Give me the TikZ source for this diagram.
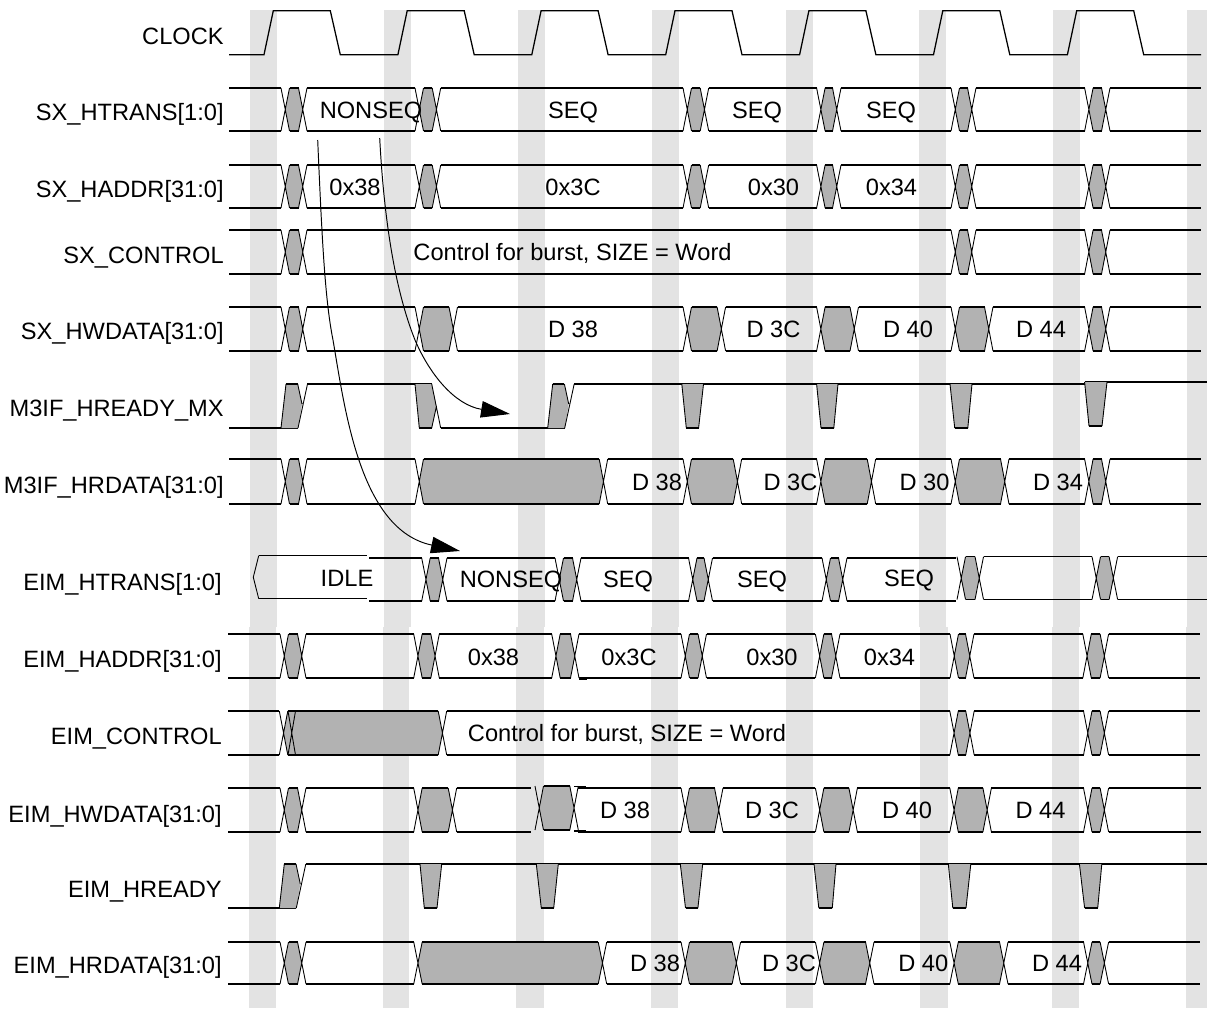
\documentclass[tikz,border=0pt]{standalone}
\usepackage{xcolor}
\usepackage{fontspec}
\setmainfont{Liberation Sans}
\usetikzlibrary{arrows.meta}
\definecolor{TDBand}{HTML}{E3E3E3}
\definecolor{TDGray}{HTML}{B2B2B2}
\tikzset{
  busline/.style={black,line width=0.72pt},
  edgeline/.style={black,line width=0.5pt},
  waitfill/.style={fill=TDGray},
  causeline/.style={black,line width=0.55pt,-{Triangle[length=0.58cm,width=0.33cm]}},
  sigLabel/.style={anchor=base east,inner sep=0pt,font=\fontsize{13.45}{16}\selectfont},
  busText/.style={anchor=base,inner sep=0pt,font=\fontsize{13.45}{16}\selectfont}
}
% one bus change: line end, line start, top, bottom
\newcommand{\BusGap}[4]{
  \fill[waitfill] (#1+8.5,#3) -- (#2-8.5,#3) -- (#2-4.25,{(#3+#4)/2}) -- (#2-8.5,#4) -- (#1+8.5,#4) -- (#1+4.25,{(#3+#4)/2}) -- cycle;
  \draw[busline] (#1+8.5,#3) -- (#2-8.5,#3) (#1+8.5,#4) -- (#2-8.5,#4);
  \draw[edgeline] (#1,#3) -- (#1+8.5,#4) (#1+8.5,#3) -- (#1,#4) (#2-8.5,#3) -- (#2,#4) (#2,#3) -- (#2-8.5,#4);
}
% top, bottom, first x, last x, list of changes
\newcommand{\BusRow}[5]{
  \foreach \xa/\xd [remember=\xd as \lastx (initially #3)] in {#5}{
    \draw[busline] (\lastx,#1) -- (\xa,#1) (\lastx,#2) -- (\xa,#2);
    \BusGap{\xa}{\xd}{#1}{#2}
  }
  \foreach \xa/\xd [remember=\xd as \lastx (initially #3)] in {#5}{\global\let\rowlast\xd}
  \draw[busline] (\rowlast,#1) -- (#4,#1) (\rowlast,#2) -- (#4,#2);
}
\newcommand{\ReadyDip}[6]{
  \fill[waitfill] (#1,#5) -- (#4,#5) -- (#3,#6) -- (#2,#6) -- cycle;
  \draw[edgeline] (#1,#5) -- (#2,#6) (#4,#5) -- (#3,#6);
  \draw[busline] (#2,#6) -- (#3,#6);
}
\newcommand{\ReadyRise}[3]{
  \fill[waitfill] (#1,#3) -- (#1+5,#2) -- (#1+16.7,#2) -- (#1+21,#2+20) -- (#1+17,#3) -- cycle;
  \draw[edgeline] (#1,#3) -- (#1+5,#2) (#1+16.7,#2) -- (#1+21,#2+20) (#1+26.5,#2) -- (#1+17,#3);
  \draw[busline] (#1+5,#2) -- (#1+16.7,#2);
}
\begin{document}
\begin{tikzpicture}[x=0.02cm,y=-0.02cm]
\path[use as bounding box] (0,0) rectangle (1207,1008);
\foreach \bx/\ex in {250/277,384/411,518/545,652/679,786/813,919/946,1053/1080,1187/1207}
  \fill[TDBand] (\bx,10) rectangle (\ex,627);
\foreach \bx/\ex in {249/276,383/409,516/544,651/678,786/813,920/948,1052/1079,1186/1207}
  \fill[TDBand] (\bx,627) rectangle (\ex,1008);
% clock
\draw[busline] (229,54.7) \foreach \k in {0,...,6}{ -- ({264+133.9*\k},54.7) -- ({273.3+133.9*\k},10.7) -- ({330.3+133.9*\k},10.7) -- ({340.3+133.9*\k},54.7)} -- (1201,54.7);
% SX side
\BusRow{88}{131}{229}{1201}{281/307,415/440.7,683/708.7,816.6/841,951/976,1084.6/1110}
\BusRow{165}{208}{229}{1201}{281/307,415/440.7,683/708.7,816.6/841,951/976,1084.6/1110}
\BusRow{230}{274}{229}{1201}{281/307,951/976,1084.6/1110}
\BusRow{307}{351}{229}{1201}{281/307,415/457.5,683/725.6,816.6/858.5,951/993,1084.6/1110}
% M3IF_HREADY_MX
\draw[busline] (229,428) -- (298,428) (307,384) -- (431.7,384) (440.7,428) -- (565,428) (574.3,384) -- (1084.6,384) (1084.6,382) -- (1207,382);
\ReadyRise{281}{384}{428}
\fill[waitfill] (415,384) -- (431.7,384) -- (436.5,406) -- (431.7,428) -- (419.3,428) -- cycle;
\draw[edgeline] (415,384) -- (419.3,428) (431.7,384) -- (440.7,428) (436.5,406) -- (431.7,428);
\draw[busline] (419.3,428) -- (431.7,428);
\ReadyRise{547.7}{384}{428}
\ReadyDip{681.8}{686.3}{698.6}{703.5}{384}{428}
\ReadyDip{816.6}{821}{833.8}{838}{384}{428}
\ReadyDip{950}{954.7}{967.8}{972}{384}{428}
\ReadyDip{1084.6}{1089}{1102}{1107}{382}{426}
\BusRow{459}{504}{229}{1201}{281/307,415/607.7,683/741.7,816.6/875.7,951/1009,1084.6/1110}
% EIM side
\draw[busline] (258.7,555.7) -- (367,555.7) (258.7,598.7) -- (367,598.7);
\draw[edgeline] (258.7,555.7) -- (253.3,577.2) -- (258.7,598.7);
\BusRow{558}{601}{369}{955.5}{421.7/447,555/581,688.5/712.5,822/847}
\BusRow{556.7}{599.5}{957}{1207}{957/983.5,1092/1117.6}
\BusRow{634}{678}{228}{1200}{280/306,413.7/439.3,551.7/579,681/706.5,815.4/840,950/974,1082.8/1108.6}
\draw[busline] (579,679) -- (587,679);
\BusRow{711}{755}{228}{1200}{279.3/446.7,949.8/974.2,1083.5/1108.6}
\draw[edgeline] (288,711) -- (295.5,755) (295.5,711) -- (288,755);
\draw[busline] (707,710.5) -- (758,710.5) (714,755.8) -- (766,755.8);
\BusRow{788}{832}{228}{530.7}{280/306,413.7/456.7}
\BusRow{786}{830}{535}{578.3}{535/578.3}
\BusRow{788}{832}{578.3}{1201}{681/723,815.4/857.4,949.8/991.4,1083.5/1108.6}
\draw[busline] (574,786.5) -- (586,786.5) (574,831) -- (586,831);
\draw[busline] (228,908) -- (296.3,908) (306,864) -- (1207,864);
\ReadyRise{279.3}{864}{908}
\ReadyDip{420}{424.3}{437}{441.7}{864}{908}
\ReadyDip{536.3}{541.3}{553.7}{558.3}{864}{908}
\ReadyDip{680.3}{685.5}{697.9}{702.7}{864}{908}
\ReadyDip{814}{818.8}{832.3}{836}{864}{908}
\ReadyDip{948.3}{952.8}{966}{970.8}{864}{908}
\ReadyDip{1079.4}{1084.6}{1097.7}{1101.8}{864}{908}
\BusRow{942}{984}{228}{1200}{280/306,413.7/606.7,681/740.6,815.4/874,949.8/1008,1083.5/1108.6}
% cause arrows
\coordinate (htransFrom) at (317.7,140);
\coordinate (htransBend) at (333,340);
\coordinate (htransTo) at (460,551);
\coordinate (readyFrom) at (379.7,138);
\coordinate (readyBend) at (415,340);
\coordinate (readyTo) at (510,414);
\draw[causeline] (htransFrom) .. controls (322,240) and (325,300) .. (htransBend) .. controls (345,410) and (360,530) .. (htransTo);
\draw[causeline] (readyFrom) .. controls (384,220) and (395,290) .. (readyBend) .. controls (430,375) and (455,405) .. (readyTo);
% signal names
\node[sigLabel] (clockName) at (224,44) {CLOCK};
\node[sigLabel] (sxTransName) at (224,120) {SX\_HTRANS[1:0]};
\node[sigLabel] (sxAddrName) at (224,197) {SX\_HADDR[31:0]};
\node[sigLabel] (sxCtrlName) at (224,263) {SX\_CONTROL};
\node[sigLabel] (sxDataName) at (224,339) {SX\_HWDATA[31:0]};
\node[sigLabel] (mxReadyName) at (224,416) {M3IF\_HREADY\_MX};
\node[sigLabel] (mxDataName) at (224,493) {M3IF\_HRDATA[31:0]};
\node[sigLabel] (eimTransName) at (222,590) {EIM\_HTRANS[1:0]};
\node[sigLabel] (eimAddrName) at (222,667) {EIM\_HADDR[31:0]};
\node[sigLabel] (eimCtrlName) at (222,744) {EIM\_CONTROL};
\node[sigLabel] (eimDataName) at (222,822) {EIM\_HWDATA[31:0]};
\node[sigLabel] (eimReadyName) at (222,897) {EIM\_HREADY};
\node[sigLabel] (eimRdName) at (222,973) {EIM\_HRDATA[31:0]};
% bus values
\node[busText] (sxTransA) at (371,118) {NONSEQ};
\node[busText] (sxTransB) at (573,118) {SEQ};
\node[busText] (sxTransC) at (757,118) {SEQ};
\node[busText] (sxTransD) at (891,118) {SEQ};
\node[busText] (sxAddrA) at (355,195) {0x38};
\node[busText] (sxAddrB) at (573,195) {0x3C};
\node[busText] (sxAddrC) at (773.5,195) {0x30};
\node[busText] (sxAddrD) at (891.5,195) {0x34};
\node[busText] (sxCtrlA) at (572.5,260.7) {Control for burst, SIZE = Word};
\node[busText] (sxDataA) at (573,337) {D 38};
\node[busText] (sxDataB) at (773.5,337) {D 3C};
\node[busText] (sxDataC) at (908,337) {D 40};
\node[busText] (sxDataD) at (1041,337) {D 44};
\node[busText] (mxDataA) at (657,490.7) {D 38};
\node[busText] (mxDataB) at (790.5,490.7) {D 3C};
\node[busText] (mxDataC) at (924.5,490.7) {D 30};
\node[busText] (mxDataD) at (1058,490.7) {D 34};
\node[busText] (eimTransA) at (347,586.7) {IDLE};
\node[busText] (eimTransB) at (511,587) {NONSEQ};
\node[busText] (eimTransC) at (628,587) {SEQ};
\node[busText] (eimTransD) at (762,587) {SEQ};
\node[busText] (eimTransE) at (909,586.7) {SEQ};
\node[busText] (eimAddrA) at (493.5,665.5) {0x38};
\node[busText] (eimAddrB) at (629,665.5) {0x3C};
\node[busText] (eimAddrC) at (772,665) {0x30};
\node[busText] (eimAddrD) at (889.5,665) {0x34};
\node[busText] (eimCtrlA) at (627,741.7) {Control for burst, SIZE = Word};
\node[busText] (eimDataA) at (625,818) {D 38};
\node[busText] (eimDataB) at (772,818) {D 3C};
\node[busText] (eimDataC) at (907,818) {D 40};
\node[busText] (eimDataD) at (1040.5,818) {D 44};
\node[busText] (eimRdA) at (655,971.7) {D 38};
\node[busText] (eimRdB) at (789,971.7) {D 3C};
\node[busText] (eimRdC) at (923.3,971.7) {D 40};
\node[busText] (eimRdD) at (1057,971.7) {D 44};
\end{tikzpicture}
\end{document}
